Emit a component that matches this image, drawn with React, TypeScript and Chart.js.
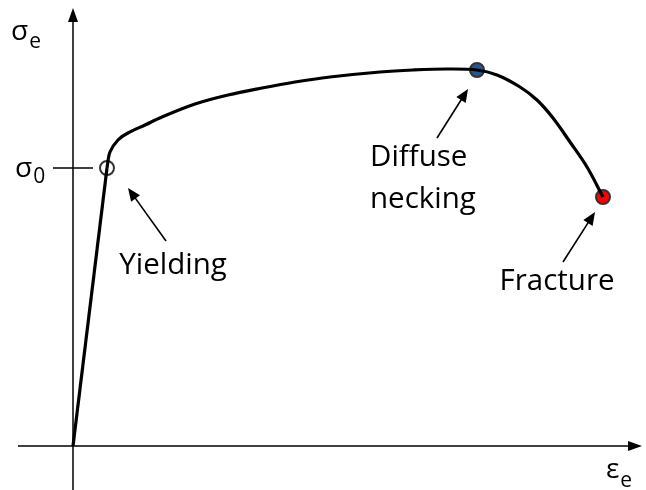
import React, { useEffect, useRef } from "react";
import { Chart, registerables } from "chart.js";

Chart.register(...registerables);

// Engineering strain (x) and engineering stress (y)
const elasticStrain = [0, 0.034];
const elasticStress = [0, 278];
const plasticStrain = [0.034, 0.037, 0.045, 0.055, 0.072, 0.089, 0.122, 0.155, 0.189, 0.222, 0.257, 0.307, 0.34, 0.374, 0.404, 0.424, 0.447, 0.464, 0.48, 0.497, 0.514, 0.53];
const plasticStress = [278, 294, 306, 313, 321, 329, 342, 351, 358, 364, 369, 374, 376, 377, 376, 371, 359, 346, 328, 304, 279, 249];

const markerNames = ["Yielding", "Diffuse necking", "Fracture"];
const markerStrain = [0.034, 0.404, 0.53];
const markerStress = [278, 376, 249];
const markerColors = ["#ffffff", "#2a5491", "#ff0000"];

const labelLines = [["Yielding"], ["Diffuse", "necking"], ["Fracture"]];
const labelStrain = [0.1, 0.297, 0.484];
const labelStress = [180, 288, 164];
const labelAlign = ["center", "left", "center"];
const arrowFromStrain = [0.093, 0.364, 0.49];
const arrowFromStress = [205, 308, 184];
const arrowToStrain = [0.055, 0.395, 0.522];
const arrowToStress = [258, 357, 234];

const sigma0 = 278;
const xRange = [-0.073, 0.573];
const yRange = [-44, 446];

function arrowHead(ctx: CanvasRenderingContext2D, x0: number, y0: number, x1: number, y1: number, len: number, half: number) {
  const a = Math.atan2(y1 - y0, x1 - x0);
  ctx.beginPath();
  ctx.moveTo(x1, y1);
  ctx.lineTo(x1 - len * Math.cos(a) + half * Math.sin(a), y1 - len * Math.sin(a) - half * Math.cos(a));
  ctx.lineTo(x1 - len * Math.cos(a) - half * Math.sin(a), y1 - len * Math.sin(a) + half * Math.cos(a));
  ctx.closePath();
  ctx.fill();
}

const FONT = "'Open Sans', 'Noto Sans', sans-serif";

const axesPlugin = {
  id: "axesPlugin",
  beforeDatasetsDraw(chart: any) {
    const ctx = chart.ctx as CanvasRenderingContext2D;
    const xs = chart.scales.x;
    const ys = chart.scales.y;
    const ox = xs.getPixelForValue(0);
    const oy = ys.getPixelForValue(0);
    ctx.save();
    ctx.strokeStyle = "#000";
    ctx.fillStyle = "#000";
    ctx.lineWidth = 1.5;
    // y axis
    const yTop = ys.getPixelForValue(438);
    const yBot = ys.getPixelForValue(-44);
    ctx.beginPath();
    ctx.moveTo(ox, yBot);
    ctx.lineTo(ox, yTop + 8);
    ctx.stroke();
    arrowHead(ctx, ox, yBot, ox, yTop, 14, 5);
    // x axis
    const xL = xs.getPixelForValue(-0.055);
    const xR = xs.getPixelForValue(0.569);
    ctx.beginPath();
    ctx.moveTo(xL, oy);
    ctx.lineTo(xR - 8, oy);
    ctx.stroke();
    arrowHead(ctx, xL, oy, xR, oy, 14, 5);
    // sigma0 tick
    const sy = ys.getPixelForValue(sigma0);
    ctx.beginPath();
    ctx.moveTo(xs.getPixelForValue(-0.02), sy);
    ctx.lineTo(xs.getPixelForValue(0.02), sy);
    ctx.stroke();
    ctx.restore();
  },
  afterDatasetsDraw(chart: any) {
    const ctx = chart.ctx as CanvasRenderingContext2D;
    const xs = chart.scales.x;
    const ys = chart.scales.y;
    ctx.save();
    ctx.fillStyle = "#000";
    ctx.strokeStyle = "#000";
    ctx.textBaseline = "alphabetic";
    // axis symbols
    const sym = (main: string, sub: string, x: number, y: number, subDy: number) => {
      ctx.textAlign = "left";
      ctx.font = `28px ${FONT}`;
      ctx.fillText(main, x, y);
      const w = ctx.measureText(main).width;
      ctx.font = `21px ${FONT}`;
      ctx.fillText(sub, x + w + 1, y + subDy);
    };
    sym("σ", "e", 11, 40, 8);
    sym("σ", "0", 15, 177, 6);
    sym("ε", "e", 606, 478, 9);

    // annotations
    ctx.lineWidth = 1.6;
    for (let i = 0; i < labelLines.length; i++) {
      const fx = xs.getPixelForValue(arrowFromStrain[i]);
      const fy = ys.getPixelForValue(arrowFromStress[i]);
      const tx = xs.getPixelForValue(arrowToStrain[i]);
      const ty = ys.getPixelForValue(arrowToStress[i]);
      const a = Math.atan2(ty - fy, tx - fx);
      ctx.beginPath();
      ctx.moveTo(fx, fy);
      ctx.lineTo(tx - 10 * Math.cos(a), ty - 10 * Math.sin(a));
      ctx.stroke();
      arrowHead(ctx, fx, fy, tx, ty, 13, 5.5);

      ctx.font = `29.5px ${FONT}`;
      ctx.textAlign = labelAlign[i] as CanvasTextAlign;
      ctx.textBaseline = "middle";
      const lx = xs.getPixelForValue(labelStrain[i]);
      const ly = ys.getPixelForValue(labelStress[i]);
      labelLines[i].forEach((t, k) => ctx.fillText(t, lx, ly + k * 42));
      ctx.textBaseline = "alphabetic";
    }
    ctx.restore();
  },
};

export default function App() {
  const ref = useRef<HTMLCanvasElement>(null);
  useEffect(() => {
    document.body.style.margin = "0";
    const toPts = (xs: number[], ys: number[]) => xs.map((x, i) => ({ x, y: ys[i] }));
    const chart = new Chart(ref.current!, {
      type: "scatter",
      data: {
        datasets: [
          {
            label: "Elastic",
            data: toPts(elasticStrain, elasticStress),
            showLine: true,
            borderColor: "#000",
            borderWidth: 3.2,
            pointRadius: 0,
            tension: 0,
          },
          {
            label: "Plastic",
            data: toPts(plasticStrain, plasticStress),
            showLine: true,
            borderColor: "#000",
            borderWidth: 3.2,
            pointRadius: 0,
            tension: 0.35,
          },
          {
            label: markerNames.join(", "),
            data: toPts(markerStrain, markerStress),
            showLine: false,
            pointRadius: 7,
            pointBackgroundColor: markerColors,
            pointBorderColor: "#333",
            pointBorderWidth: 2,
          },
        ],
      },
      options: {
        responsive: false,
        animation: false,
        layout: { padding: 0, autoPadding: false },
        plugins: { legend: { display: false }, tooltip: { enabled: false } },
        scales: {
          x: { type: "linear", min: xRange[0], max: xRange[1], display: false },
          y: { type: "linear", min: yRange[0], max: yRange[1], display: false },
        },
      } as any,
      plugins: [axesPlugin],
    });
    return () => chart.destroy();
  }, []);
  return (
    <div style={{ width: 646, height: 490, background: "#fff" }}>
      <canvas ref={ref} width={646} height={490} style={{ display: "block" }} />
    </div>
  );
}
